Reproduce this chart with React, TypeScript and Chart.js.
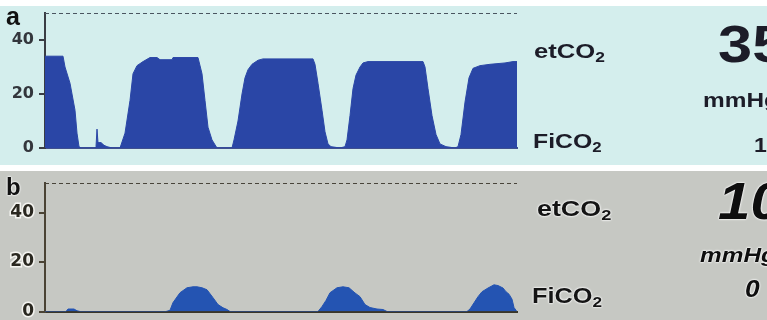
import React, { useEffect, useRef } from "react";
import { Chart, registerables } from "chart.js";

Chart.register(...registerables);

// ---------- data ----------
const tickValues = [0, 20, 40];
const sweepEnd = 472;

// Panel a: normal capnogram (mmHg over time samples)
const limitA = 50;
const timeA = [
  0, 18, 20, 25, 30, 32, 34, 36, 50, 51, 52, 53, 56, 59, 62, 67, 75, 80, 85, 88, 92, 98, 105,
  112, 115, 127, 128, 153, 157, 160, 163, 167, 172, 187, 189, 193, 197, 200, 203, 207, 213,
  218, 268, 270, 273, 277, 280, 283, 286, 295, 300, 302, 305, 308, 311, 315, 318, 323, 378,
  380, 383, 387, 391, 395, 401, 410, 413, 416, 420, 424, 428, 435, 445, 460, 468, 472,
];
const co2A = [
  34, 34, 30, 24, 14, 5.5, 0.5, 0, 0, 0.5, 7, 2, 2, 1, 0.5, 0, 0, 5.5, 17.6, 27.5, 30.5, 32, 33.5,
  33.5, 32.7, 32.7, 33.5, 33.5, 27.5, 17.6, 7.7, 3, 0, 0, 3, 10, 20, 26, 29, 31, 32.5,
  33, 33, 31, 24, 14, 6, 1.5, 0.5, 0, 0.5, 3, 12, 22, 27, 30, 31.5, 32, 32,
  30, 22, 12, 5, 1.5, 0.5, 0, 0.5, 5, 17, 26, 29.5, 30.5, 31, 31.5, 32, 32,
];

// Panel b: low capnogram
const limitB = 52;
const timeB = [
  0, 21, 23, 29, 32, 35, 121, 125, 128, 135, 142, 148, 152, 157, 162, 168, 173, 178, 182, 185,
  273, 277, 281, 285, 292, 298, 304, 310, 315, 320, 325, 332, 338, 342,
  422, 425, 429, 433, 437, 443, 449, 453, 458, 461, 464, 467, 469, 471, 472,
];
const co2B = [
  0, 0, 1, 1, 0.3, 0, 0, 0.5, 3.6, 7.6, 9.6, 10, 10, 9.6, 8.8, 5.6, 2.8, 1.5, 0.8, 0,
  0, 2, 4.5, 7.6, 9.6, 10, 9.6, 7.5, 6, 2.8, 1.6, 1, 0.8, 0,
  0, 1, 3.5, 6, 8, 9.5, 10.8, 10.5, 9.5, 8, 7, 5, 1.6, 0.5, 0,
];

type PanelCfg = {
  time: number[];
  values: number[];
  limit: number;
  fill: string;
  dash: string;
  axisColor: string;
  baseColor: string;
  tickColor: string;
  tickSize: number;
  stroke?: string;
  strokeWidth?: number;
  padTop: number;
  padBottom: number;
};

function makeChart(canvas: HTMLCanvasElement, c: PanelCfg) {
  return new Chart(canvas, {
    type: "line",
    data: {
      datasets: [
        {
          data: c.time.map((t, i) => ({ x: t, y: c.values[i] })),
          fill: "origin",
          backgroundColor: c.fill,
          borderColor: c.fill,
          borderWidth: 1,
          pointRadius: 0,
          tension: 0,
          order: 2,
        },
        {
          data: [
            { x: 0, y: c.limit },
            { x: sweepEnd, y: c.limit },
          ],
          fill: false,
          borderColor: c.dash,
          borderWidth: 2,
          borderDash: [4, 3],
          pointRadius: 0,
          order: 1,
        },
      ],
    },
    options: {
      animation: false,
      responsive: false,
      maintainAspectRatio: false,
      events: [],
      layout: { padding: { top: c.padTop, bottom: c.padBottom, left: 0, right: 250 } },
      plugins: { legend: { display: false }, tooltip: { enabled: false } },
      scales: {
        x: {
          type: "linear",
          min: 0,
          max: sweepEnd,
          afterFit: (s: any) => {
            s.height = 0;
          },
          ticks: { display: false },
          grid: { display: false },
          border: { display: true, color: c.baseColor, width: 2 },
        },
        y: {
          min: 0,
          max: c.limit,
          afterBuildTicks: (s: any) => {
            s.ticks = tickValues.map((v) => ({ value: v }));
          },
          afterFit: (s: any) => {
            s.width = 45;
          },
          ticks: {
            font: { family: "'DejaVu Sans', sans-serif", weight: "bold", size: c.tickSize, lineHeight: 1 },
            color: c.tickColor,
            padding: 5,
            textStrokeColor: c.stroke,
            textStrokeWidth: c.strokeWidth || 0,
          } as any,
          grid: {
            display: true,
            drawOnChartArea: false,
            drawTicks: true,
            tickLength: 6,
            color: c.axisColor,
            lineWidth: 2,
          },
          border: { display: true, color: c.axisColor, width: 2 },
        },
      },
    },
  } as any);
}

const Label = (p: {
  left: number;
  top: number;
  size: number;
  italic?: boolean;
  halo?: boolean;
  color?: string;
  scale?: number;
  children: React.ReactNode;
}) => (
  <div
    style={{
      position: "absolute",
      left: p.left,
      top: p.top,
      fontFamily: "'Liberation Sans', Arial, sans-serif",
      fontWeight: "bold",
      fontStyle: p.italic ? "italic" : "normal",
      fontSize: p.size,
      lineHeight: 1,
      whiteSpace: "nowrap",
      color: p.color || "#1c1c28",
      transform: `scaleX(${p.scale ?? 1.22})`,
      transformOrigin: "left top",
      textShadow: p.halo ? "0 0 2px #fff, 0 0 2px #fff, 0 0 1px #fff" : undefined,
    }}
  >
    {p.children}
  </div>
);

const Sub = ({ children }: { children: React.ReactNode }) => (
  <span style={{ fontSize: "0.68em", position: "relative", top: "0.3em" }}>{children}</span>
);

export default function App() {
  const refA = useRef<HTMLCanvasElement>(null);
  const refB = useRef<HTMLCanvasElement>(null);

  useEffect(() => {
    const a = makeChart(refA.current!, {
      time: timeA,
      values: co2A,
      limit: limitA,
      fill: "#2a46a6",
      dash: "#4a5560",
      axisColor: "#3a3d44",
      baseColor: "#40508f",
      tickColor: "#33363c",
      tickSize: 16,
      padTop: 12,
      padBottom: 17,
    });
    const b = makeChart(refB.current!, {
      time: timeB,
      values: co2B,
      limit: limitB,
      fill: "#2454b2",
      dash: "#48443a",
      axisColor: "#4a4334",
      baseColor: "#3a3628",
      tickColor: "#2a2820",
      tickSize: 17,
      stroke: "#f4f4f0",
      strokeWidth: 3,
      padTop: 18,
      padBottom: 13,
    });
    return () => {
      a.destroy();
      b.destroy();
    };
  }, []);

  return (
    <div
      style={{
        position: "fixed",
        left: 0,
        top: 0,
        width: 767,
        height: 320,
        overflow: "hidden",
        background: "#ffffff",
      }}
    >
      <div style={{ position: "absolute", left: 0, top: 6, width: 767, height: 159, background: "#d4eeed" }} />
      <div style={{ position: "absolute", left: 0, top: 171, width: 767, height: 149, background: "#c6c8c3" }} />
      <canvas ref={refA} width={767} height={165} style={{ position: "absolute", left: 0, top: 0 }} />
      <canvas ref={refB} width={767} height={160} style={{ position: "absolute", left: 0, top: 165 }} />

      {/* panel a */}
      <Label left={6} top={4} size={25} color="#111" scale={1}>a</Label>
      <Label left={534} top={40} size={21}>etCO<Sub>2</Sub></Label>
      <Label left={533} top={130} size={21} scale={1.18}>FiCO<Sub>2</Sub></Label>
      <Label left={718} top={18} size={52} scale={1.18}>35</Label>
      <Label left={703} top={90} size={20}>mmHg</Label>
      <Label left={754} top={134} size={21} scale={1.1}>1</Label>

      {/* panel b */}
      <Label left={6} top={175} size={24} color="#111" scale={1} halo>b</Label>
      <Label left={537} top={198} size={22} color="#141414" halo>etCO<Sub>2</Sub></Label>
      <Label left={532} top={285} size={22} color="#141414" scale={1.15} halo>FiCO<Sub>2</Sub></Label>
      <Label left={718} top={175} size={52} color="#0e0e0e" italic halo scale={1.12}>10</Label>
      <Label left={700} top={245} size={20} color="#0e0e0e" italic halo>mmHg</Label>
      <Label left={745} top={277} size={24} color="#0e0e0e" italic halo scale={1.1}>0</Label>
    </div>
  );
}
